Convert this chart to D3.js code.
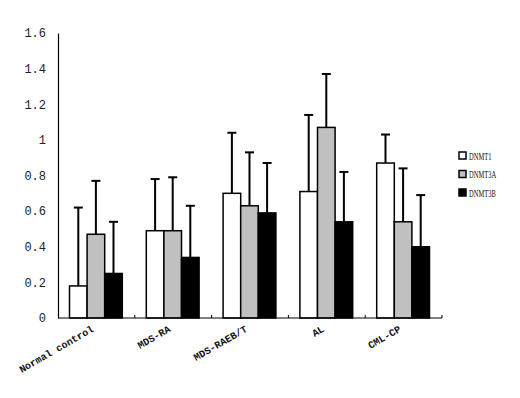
<!DOCTYPE html>
<html>
<head>
<meta charset="utf-8">
<script src="https://cdn.jsdelivr.net/npm/d3@7"></script>
<style>
	body { margin: 0; background: #fff; }
	svg { display: block; }
</style>
</head>
<body>
<svg id="chart" width="520" height="398"></svg>
<script>
const categories = ['Normal control', 'MDS-RA', 'MDS-RAEB/T', 'AL', 'CML-CP']
const seriesNames = ['DNMT1', 'DNMT3A', 'DNMT3B']
const dnmt1 = [0.18, 0.49, 0.70, 0.71, 0.87]
const dnmt3a = [0.47, 0.49, 0.63, 1.07, 0.54]
const dnmt3b = [0.25, 0.34, 0.59, 0.54, 0.40]
const dnmt1Err = [0.44, 0.29, 0.34, 0.43, 0.16]
const dnmt3aErr = [0.30, 0.30, 0.30, 0.30, 0.30]
const dnmt3bErr = [0.29, 0.29, 0.28, 0.28, 0.29]
const yTicks = [0, 0.2, 0.4, 0.6, 0.8, 1, 1.2, 1.4, 1.6]

const colors = ['#ffffff', '#c0c0c0', '#000000']
const means = [dnmt1, dnmt3a, dnmt3b]
const errs = [dnmt1Err, dnmt3aErr, dnmt3bErr]

const svg = d3.select('#chart')
const margin = { left: 58, right: 78, top: 33, bottom: 80 }
const width = 520 - margin.left - margin.right
const height = 398 - margin.top - margin.bottom

const x = d3.scaleBand().domain(categories).range([margin.left, margin.left + width])
const xInner = d3.scaleBand().domain(seriesNames).range([11.5, x.bandwidth() - 12.5])
const y = d3.scaleLinear().domain([0, 1.6]).range([margin.top + height, margin.top])

const rows = []
categories.forEach((c, i) => {
	seriesNames.forEach((s, j) => {
		rows.push({ cat: c, series: s, value: means[j][i], err: errs[j][i], color: colors[j] })
	})
})

// error bars first, bars drawn on top
const eb = svg.append('g').attr('class', 'errors')
rows.forEach(d => {
	const cx = x(d.cat) + xInner(d.series) + xInner.bandwidth() / 2
	eb.append('line')
		.attr('x1', cx).attr('x2', cx)
		.attr('y1', y(d.value)).attr('y2', y(d.value + d.err))
		.attr('stroke', '#000').attr('stroke-width', 2)
	eb.append('line')
		.attr('x1', cx - 4.5).attr('x2', cx + 4.5)
		.attr('y1', y(d.value + d.err)).attr('y2', y(d.value + d.err))
		.attr('stroke', '#000').attr('stroke-width', 2)
})

svg.append('g').attr('class', 'bars')
	.selectAll('rect')
	.data(rows)
	.join('rect')
	.attr('x', d => x(d.cat) + xInner(d.series))
	.attr('y', d => y(d.value))
	.attr('width', xInner.bandwidth())
	.attr('height', d => y(0) - y(d.value))
	.attr('fill', d => d.color)
	.attr('stroke', '#000')
	.attr('stroke-width', 1.5)

// y axis
const yAxis = svg.append('g')
	.attr('transform', `translate(${margin.left},0)`)
	.call(d3.axisLeft(y).tickValues(yTicks).tickSize(0).tickPadding(12).tickFormat(d3.format('')))
yAxis.select('.domain').attr('stroke', '#000').attr('stroke-width', 1.2)
yAxis.selectAll('text')
	.attr('font-family', 'Liberation Mono, monospace')
	.attr('font-size', 12)
	.attr('fill', '#222')

// x axis
const xAxisY = y(0)
svg.append('line')
	.attr('x1', margin.left).attr('x2', margin.left + width)
	.attr('y1', xAxisY).attr('y2', xAxisY)
	.attr('stroke', '#000').attr('stroke-width', 1.2)
categories.forEach(c => {
	const tx = x(c) + x.bandwidth()
	svg.append('line')
		.attr('x1', tx).attr('x2', tx)
		.attr('y1', xAxisY).attr('y2', xAxisY - 3)
		.attr('stroke', '#000').attr('stroke-width', 1)
})

svg.append('g').attr('class', 'xlabels')
	.selectAll('text')
	.data(categories)
	.join('text')
	.attr('transform', d => `translate(${x(d) + x.bandwidth() / 2 - 2},${xAxisY + 13}) rotate(-30)`)
	.attr('text-anchor', 'end')
	.attr('font-family', 'Liberation Mono, monospace')
	.attr('font-weight', 'bold')
	.attr('font-size', 10)
	.attr('fill', '#111')
	.text(d => d)

// legend
const legend = svg.append('g').attr('transform', 'translate(459,152)')
seriesNames.forEach((s, i) => {
	const g = legend.append('g').attr('transform', `translate(0,${i * 18.5})`)
	g.append('rect')
		.attr('width', 7).attr('height', 7)
		.attr('fill', colors[i])
		.attr('stroke', '#000').attr('stroke-width', 1.5)
	g.append('text')
		.attr('transform', 'translate(10,7.5) scale(0.62,1)')
		.attr('font-family', 'Liberation Serif, serif')
		.attr('font-size', 10.5)
		.attr('fill', '#111')
		.text(s)
})
</script>
</body>
</html>
